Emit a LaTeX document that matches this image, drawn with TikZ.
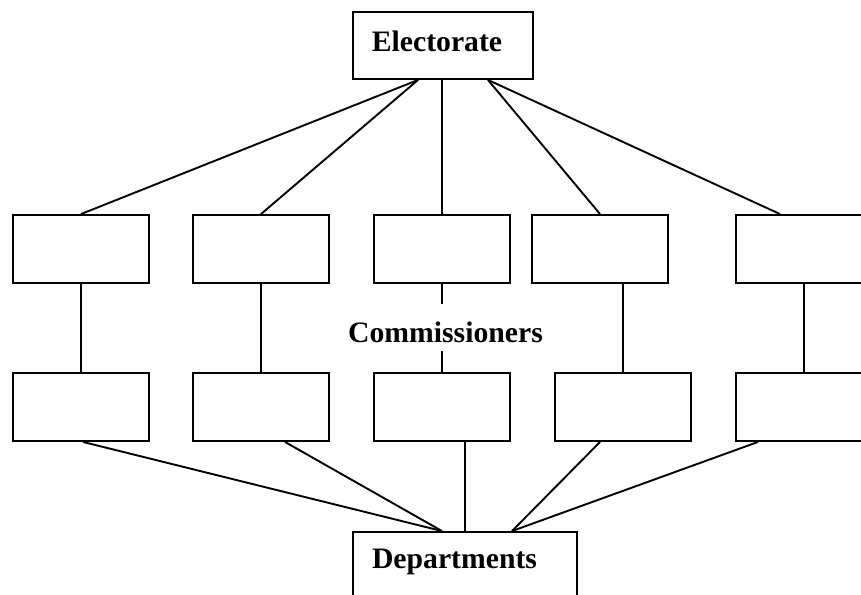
\documentclass[tikz,border=0pt]{standalone}
\usepackage{fontspec}
\setmainfont{Liberation Serif}
\begin{document}
\begin{tikzpicture}[x=1pt,y=-1pt,
  box/.style={draw, rectangle, line width=1.9pt, inner sep=0pt, minimum width=136pt, minimum height=68pt},
  bigbox/.style={draw, rectangle, line width=1.9pt, inner sep=0pt, font=\fontsize{29.7}{32}\selectfont\bfseries},
  lbl/.style={inner sep=0pt, font=\fontsize{29.7}{32}\selectfont\bfseries},
  link/.style={line width=1.9pt}]
\useasboundingbox (0,0) rectangle (861,594);
\clip (0,0) rectangle (861,594);
% top
\node[bigbox, minimum width=180pt, minimum height=67pt, text height=20pt, text depth=7pt] (elect) at (443,45.5) {\hspace*{-12pt}Electorate};
% row 1
\node[box] (c1) at (81,249) {};
\node[box] (c2) at (261,249) {};
\node[box] (c3) at (442,249) {};
\node[box] (c4) at (600,249) {};
\node[box] (c5) at (804,249) {};
% row 2
\node[box] (d1) at (81,407) {};
\node[box] (d2) at (261,407) {};
\node[box] (d3) at (442,407) {};
\node[box] (d4) at (623,407) {};
\node[box] (d5) at (804,407) {};
% label
\node[lbl, anchor=base, text height=38pt, text depth=9pt] (comm) at (445.5,342) {Commissioners};
% bottom
\node[bigbox, minimum width=224pt, minimum height=90pt, text height=20pt, text depth=38pt] (dep) at (465,577) {\hspace*{-21pt}Departments};
% electorate links
\draw[link] ([xshift=-25pt]elect.south) -- (c1.north);
\draw[link] ([xshift=-25pt]elect.south) -- (c2.north);
\draw[link] ([xshift=-1pt]elect.south) -- (c3.north);
\draw[link] ([xshift=45pt]elect.south) -- (c4.north);
\draw[link] ([xshift=45pt]elect.south) -- ([xshift=-24pt]c5.north);
% verticals
\draw[link] (c1.south) -- (d1.north);
\draw[link] (c2.south) -- (d2.north);
\draw[link] (c3.south) -- (c3.south |- comm.north);
\draw[link] (d3.north |- comm.south) -- (d3.north);
\draw[link] ([xshift=23pt]c4.south) -- (d4.north);
\draw[link] (c5.south) -- (d5.north);
% department links
\draw[link] ([xshift=2pt]d1.south) -- ([xshift=-23pt]dep.north);
\draw[link] ([xshift=24pt]d2.south) -- ([xshift=-23pt]dep.north);
\draw[link] (d3.south -| dep.north) -- (dep.north);
\draw[link] ([xshift=-23pt]d4.south) -- ([xshift=47pt]dep.north);
\draw[link] ([xshift=-46pt]d5.south) -- ([xshift=47pt]dep.north);
\end{tikzpicture}
\end{document}
